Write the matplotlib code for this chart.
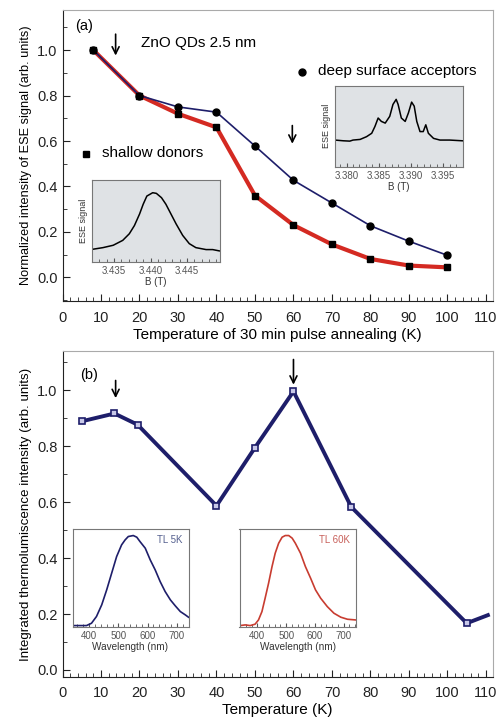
import numpy as np
import matplotlib.pyplot as plt
from matplotlib.ticker import MultipleLocator

plt.rcParams['font.family'] = ['Liberation Sans', 'DejaVu Sans']

# (a) ESE signal after 30 min pulse annealing
anneal_T = [8, 20, 30, 40, 50, 60, 70, 80, 90, 100]
shallow = [1.0, 0.80, 0.72, 0.66, 0.36, 0.23, 0.145, 0.081, 0.052, 0.044]
deep = [1.0, 0.80, 0.75, 0.727, 0.578, 0.427, 0.327, 0.227, 0.159, 0.097]

# inset spectra for panel (a)
shallow_B = [3.4321, 3.4335, 3.4349, 3.4362, 3.4371, 3.4378, 3.4385, 3.4390, 3.4395, 3.4403,
             3.4408, 3.4415, 3.4421, 3.4428, 3.4435, 3.4444, 3.4453, 3.4462, 3.4476, 3.4485, 3.4494]
shallow_sig = [0.153, 0.173, 0.202, 0.262, 0.343, 0.444, 0.585, 0.706, 0.806, 0.847,
               0.839, 0.786, 0.706, 0.585, 0.464, 0.323, 0.222, 0.173, 0.149, 0.149, 0.133]
deep_B = [3.3782, 3.3795, 3.3805, 3.3810, 3.3821, 3.3831, 3.3839, 3.3844, 3.3849, 3.3854,
          3.3860, 3.3867, 3.3872, 3.3877, 3.3880, 3.3885, 3.3891, 3.3896, 3.3901, 3.3905,
          3.3909, 3.3914, 3.3919, 3.3923, 3.3927, 3.3935, 3.3945, 3.3960, 3.3980]
deep_sig = [0.328, 0.319, 0.315, 0.328, 0.336, 0.370, 0.412, 0.496, 0.601, 0.559,
            0.538, 0.622, 0.769, 0.832, 0.769, 0.601, 0.559, 0.664, 0.798, 0.748,
            0.559, 0.433, 0.433, 0.517, 0.412, 0.349, 0.328, 0.328, 0.319]

# (b) integrated thermoluminescence
tl_T = [5, 13.5, 19.5, 40, 50, 60, 75, 105, 110.5]
tl_I = [0.889, 0.917, 0.877, 0.587, 0.795, 0.996, 0.583, 0.167, 0.196]

# TL spectra for the insets
wl_5K = [343, 391, 408, 425, 443, 460, 477, 494, 511, 523, 534, 551, 563, 574,
         592, 609, 626, 643, 660, 678, 695, 712, 729, 740]
tl_5K = [0.01, 0.01, 0.034, 0.103, 0.223, 0.377, 0.548, 0.719, 0.839, 0.890, 0.925, 0.935,
         0.918, 0.873, 0.805, 0.685, 0.582, 0.462, 0.360, 0.274, 0.212, 0.154, 0.120, 0.096]
wl_60K = [340, 358, 375, 392, 404, 416, 427, 439, 451, 462, 474, 486, 497, 509, 521,
          532, 550, 567, 585, 602, 620, 643, 666, 690, 713, 741]
tl_60K = [0.01, 0.017, 0.01, 0.024, 0.068, 0.154, 0.291, 0.445, 0.616, 0.753, 0.856, 0.918,
          0.935, 0.935, 0.908, 0.856, 0.753, 0.616, 0.497, 0.377, 0.291, 0.205, 0.137,
          0.096, 0.075, 0.068]

navy = '#1e1e6a'
red = '#d42a22'
tick_gray = '#555555'


def style_main(ax):
    ax.set_xlim(0, 111.7)
    ax.xaxis.set_major_locator(MultipleLocator(10))
    ax.xaxis.set_minor_locator(MultipleLocator(2))
    ax.yaxis.set_major_locator(MultipleLocator(0.2))
    ax.yaxis.set_minor_locator(MultipleLocator(0.1))
    ax.tick_params(which='both', direction='in', labelsize=10.5, colors='#222222')
    ax.tick_params(axis='x', pad=7)
    ax.tick_params(which='major', length=5)
    ax.tick_params(which='minor', length=3)
    for side in ['top', 'right']:
        ax.spines[side].set_color('#aaaaaa')
    for side in ['left', 'bottom']:
        ax.spines[side].set_color('#222222')


def style_inset(ax, xlim, face):
    ax.set_facecolor(face)
    ax.set_xlim(*xlim)
    ax.set_ylim(0, 1)
    ax.set_yticks([])
    ax.tick_params(which='both', direction='in', labelsize=7, colors=tick_gray, length=2, pad=3)
    ax.tick_params(which='major', length=3)
    for s in ax.spines.values():
        s.set_color('#777777')
        s.set_linewidth(0.8)


def down_arrow(ax, x0, y0, y1):
    ax.annotate('', xy=(x0, y1), xytext=(x0, y0),
                arrowprops=dict(arrowstyle='->, head_width=0.25, head_length=0.5',
                                color='black', lw=1.2, shrinkA=0, shrinkB=0))


fig = plt.figure(figsize=(5, 7.21), dpi=100)

# ---- panel (a) ----
ax1 = fig.add_axes([0.125, 0.5825, 0.86, 0.4035])
style_main(ax1)
ax1.set_ylim(-0.104, 1.176)
ax1.plot(anneal_T, shallow, '-', color=red, lw=3, zorder=2)
ax1.plot(anneal_T, deep, '-', color=navy, lw=1.2, zorder=3)
ax1.plot(anneal_T, shallow, 's', color='black', ms=5, zorder=4)
ax1.plot(anneal_T, deep, 'o', color='black', ms=5, zorder=4)
ax1.set_xlabel('Temperature of 30 min pulse annealing (K)', fontsize=11, labelpad=2)
ax1.set_ylabel('Normalized intensity of ESE signal (arb. units)', fontsize=9.2, labelpad=4)

ax1.text(3.2, 1.105, '(a)', fontsize=10.5, va='center')
ax1.text(20.4, 1.033, 'ZnO QDs 2.5 nm', fontsize=11, va='center')
ax1.plot([62.3], [0.905], 'o', color='black', ms=5)
ax1.text(66.3, 0.91, 'deep surface acceptors', fontsize=11, va='center')
ax1.plot([6.2], [0.543], 's', color='black', ms=4.5)
ax1.text(10.2, 0.548, 'shallow donors', fontsize=11, va='center')
down_arrow(ax1, 13.8, 1.07, 0.976)
down_arrow(ax1, 59.7, 0.668, 0.588)

# insets of panel (a)
ins1 = fig.add_axes([0.184, 0.637, 0.256, 0.113])
style_inset(ins1, (3.432, 3.4495), '#dfe2e5')
ins1.plot(shallow_B, shallow_sig, color='black', lw=1.1)
ins1.xaxis.set_minor_locator(MultipleLocator(0.001))
ins1.set_xticks([3.435, 3.440, 3.445])
ins1.set_xticklabels(['3.435', '3.440', '3.445'])
ins1.set_xlabel('B (T)', fontsize=7, color='#333333', labelpad=1)
ins1.set_ylabel('ESE signal', fontsize=6.5, color='#333333', labelpad=3)

ins2 = fig.add_axes([0.67, 0.769, 0.255, 0.112])
style_inset(ins2, (3.3782, 3.398), '#dfe2e5')
ins2.plot(deep_B, deep_sig, color='black', lw=1.1)
ins2.xaxis.set_minor_locator(MultipleLocator(0.001))
ins2.set_xticks([3.380, 3.385, 3.390, 3.395])
ins2.set_xticklabels(['3.380', '3.385', '3.390', '3.395'])
ins2.set_xlabel('B (T)', fontsize=7, color='#333333', labelpad=1)
ins2.set_ylabel('ESE signal', fontsize=6.5, color='#333333', labelpad=3)

# ---- panel (b) ----
ax2 = fig.add_axes([0.125, 0.0615, 0.86, 0.4515])
style_main(ax2)
ax2.set_ylim(-0.024, 1.14)
ax2.plot(tl_T, tl_I, '-', color=navy, lw=2.8, zorder=3)
ax2.plot(tl_T[:-1], tl_I[:-1], 's', mfc='#c8c8e8', mec=navy, mew=1.2, ms=5, zorder=4)
ax2.set_xlabel('Temperature (K)', fontsize=11, labelpad=2)
ax2.set_ylabel('Integrated thermolumiscence intensity (arb. units)', fontsize=9.6, labelpad=4)
ax2.text(4.7, 1.054, '(b)', fontsize=10.5, va='center')
down_arrow(ax2, 13.8, 1.035, 0.972)
down_arrow(ax2, 60, 1.11, 1.02)

# TL spectra insets
ins3 = fig.add_axes([0.145, 0.131, 0.232, 0.135])
style_inset(ins3, (343, 740), 'white')
ins3.plot(wl_5K, tl_5K, color=navy, lw=1.2)
ins3.xaxis.set_major_locator(MultipleLocator(100))
ins3.xaxis.set_minor_locator(MultipleLocator(20))
ins3.set_xlabel('Wavelength (nm)', fontsize=7.2, color='#333333', labelpad=1)
ins3.text(0.95, 0.86, 'TL 5K', transform=ins3.transAxes, ha='right', fontsize=7, color='#55608f')

ins4 = fig.add_axes([0.479, 0.131, 0.232, 0.135])
style_inset(ins4, (338, 741), 'white')
ins4.plot(wl_60K, tl_60K, color='#c83c30', lw=1.2)
ins4.xaxis.set_major_locator(MultipleLocator(100))
ins4.xaxis.set_minor_locator(MultipleLocator(20))
ins4.set_xlabel('Wavelength (nm)', fontsize=7.2, color='#333333', labelpad=1)
ins4.text(0.95, 0.86, 'TL 60K', transform=ins4.transAxes, ha='right', fontsize=7, color='#c8605a')

fig.savefig('out.png', dpi=100)
